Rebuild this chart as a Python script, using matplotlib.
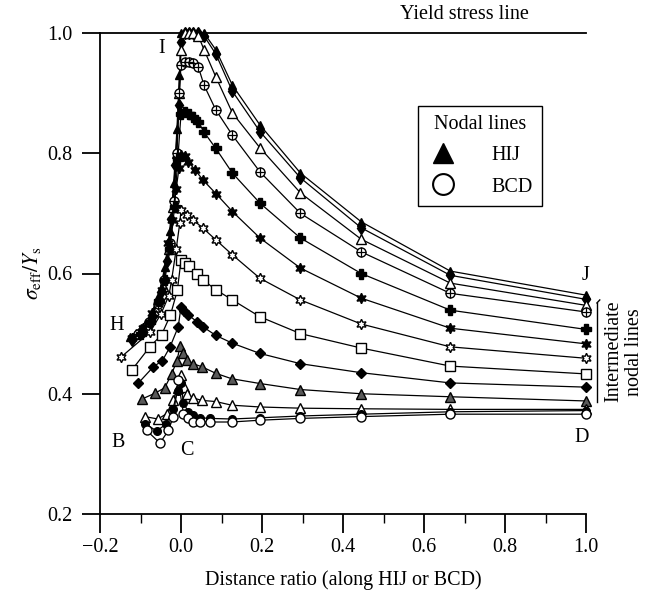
import matplotlib
matplotlib.use('Agg')
import matplotlib.pyplot as plt
from matplotlib.lines import Line2D
from matplotlib.ticker import MultipleLocator

plt.rcParams['font.family'] = ['Liberation Serif', 'DejaVu Serif']
plt.rcParams['mathtext.fontset'] = 'stix'

# ---- data (distance ratio, sigma_eff / Y_s) ----
# HIJ nodal line
hij_x = [-0.125, -0.10, -0.075, -0.055, -0.04, -0.028, -0.018, -0.01, -0.004, 0.0,
         0.01, 0.02, 0.03, 0.043, 0.057, 0.086, 0.127, 0.195, 0.295, 0.445, 0.665, 1.0]
hij_y = [0.495, 0.51, 0.53, 0.565, 0.61, 0.67, 0.75, 0.84, 0.93, 1.0,
         1.0, 1.0, 1.0, 1.0, 1.0, 0.972, 0.913, 0.847, 0.767, 0.686, 0.604, 0.564]

# intermediate nodal lines (top to bottom)
l2_x = [-0.12, -0.095, -0.07, -0.05, -0.035, -0.024, -0.014, -0.006, 0.0,
        0.01, 0.02, 0.03, 0.043, 0.057, 0.086, 0.127, 0.195, 0.295, 0.445, 0.665, 1.0]
l2_y = [0.49, 0.505, 0.53, 0.57, 0.62, 0.69, 0.78, 0.88, 0.985,
        1.0, 1.0, 1.0, 1.0, 0.995, 0.965, 0.903, 0.836, 0.759, 0.676, 0.597, 0.557]

l3_x = [-0.11, -0.085, -0.062, -0.045, -0.03, -0.02, -0.011, -0.004, 0.0,
        0.01, 0.02, 0.03, 0.043, 0.057, 0.086, 0.127, 0.195, 0.295, 0.445, 0.665, 1.0]
l3_y = [0.50, 0.515, 0.54, 0.58, 0.64, 0.71, 0.80, 0.90, 0.972,
        1.0, 1.0, 1.0, 0.995, 0.972, 0.927, 0.867, 0.809, 0.734, 0.657, 0.584, 0.547]

l4_x = [-0.105, -0.08, -0.058, -0.042, -0.028, -0.018, -0.01, -0.004, 0.0,
        0.01, 0.02, 0.03, 0.043, 0.057, 0.086, 0.127, 0.195, 0.295, 0.445, 0.665, 1.0]
l4_y = [0.50, 0.52, 0.55, 0.59, 0.65, 0.72, 0.80, 0.90, 0.947,
        0.952, 0.952, 0.95, 0.943, 0.913, 0.872, 0.83, 0.769, 0.70, 0.636, 0.567, 0.536]

l5_x = [-0.10, -0.077, -0.055, -0.04, -0.027, -0.016, -0.008, 0.0,
        0.01, 0.02, 0.03, 0.043, 0.057, 0.086, 0.127, 0.195, 0.295, 0.445, 0.665, 1.0]
l5_y = [0.50, 0.52, 0.555, 0.59, 0.64, 0.71, 0.79, 0.865,
        0.868, 0.865, 0.86, 0.852, 0.835, 0.808, 0.767, 0.717, 0.659, 0.60, 0.539, 0.507]

l6_x = [-0.122, -0.093, -0.072, -0.048, -0.031, -0.023, -0.012, -0.005, 0.0,
        0.01, 0.018, 0.035, 0.055, 0.086, 0.127, 0.195, 0.295, 0.445, 0.665, 1.0]
l6_y = [0.492, 0.509, 0.534, 0.572, 0.65, 0.689, 0.74, 0.775, 0.797,
        0.795, 0.786, 0.772, 0.755, 0.733, 0.703, 0.659, 0.609, 0.559, 0.509, 0.483]

l7_x = [-0.148, -0.077, -0.05, -0.03, -0.023, -0.012, -0.003, 0.0,
        0.014, 0.03, 0.055, 0.086, 0.127, 0.195, 0.295, 0.445, 0.665, 1.0]
l7_y = [0.461, 0.502, 0.532, 0.563, 0.59, 0.64, 0.684, 0.705,
        0.697, 0.689, 0.675, 0.656, 0.631, 0.592, 0.556, 0.516, 0.478, 0.459]

l8_x = [-0.122, -0.077, -0.048, -0.026, -0.009, 0.0,
        0.01, 0.02, 0.039, 0.055, 0.086, 0.127, 0.195, 0.295, 0.445, 0.665, 1.0]
l8_y = [0.439, 0.478, 0.498, 0.531, 0.572, 0.622,
        0.618, 0.612, 0.60, 0.589, 0.573, 0.556, 0.528, 0.50, 0.476, 0.446, 0.433]

l9_x = [-0.105, -0.068, -0.046, -0.027, -0.007, 0.0,
        0.008, 0.018, 0.039, 0.055, 0.086, 0.127, 0.195, 0.295, 0.445, 0.665, 1.0]
l9_y = [0.418, 0.445, 0.455, 0.478, 0.511, 0.544,
        0.538, 0.531, 0.52, 0.511, 0.497, 0.484, 0.467, 0.45, 0.435, 0.418, 0.411]

l10_x = [-0.097, -0.064, -0.04, -0.023, -0.01, -0.002,
         0.006, 0.014, 0.03, 0.051, 0.086, 0.125, 0.195, 0.295, 0.445, 0.665, 1.0]
l10_y = [0.391, 0.401, 0.41, 0.433, 0.455, 0.48,
         0.468, 0.456, 0.45, 0.445, 0.434, 0.425, 0.417, 0.407, 0.40, 0.395, 0.388]

l11_x = [-0.089, -0.057, -0.035, -0.02, -0.008, 0.0,
         0.007, 0.015, 0.03, 0.051, 0.086, 0.125, 0.195, 0.295, 0.445, 0.665, 1.0]
l11_y = [0.362, 0.358, 0.367, 0.389, 0.41, 0.431,
         0.412, 0.40, 0.393, 0.389, 0.387, 0.381, 0.378, 0.376, 0.375, 0.374, 0.374]

l12_x = [-0.088, -0.06, -0.036, -0.02, -0.008, 0.0,
         0.006, 0.018, 0.03, 0.047, 0.072, 0.125, 0.195, 0.295, 0.445, 0.665, 1.0]
l12_y = [0.35, 0.338, 0.35, 0.375, 0.405, 0.418,
         0.385, 0.37, 0.364, 0.36, 0.359, 0.358, 0.36, 0.363, 0.366, 0.37, 0.372]

# BCD nodal line
bcd_x = [-0.085, -0.052, -0.031, -0.019, -0.007,
         0.006, 0.018, 0.03, 0.047, 0.072, 0.125, 0.195, 0.295, 0.445, 0.665, 1.0]
bcd_y = [0.339, 0.318, 0.339, 0.362, 0.423,
         0.367, 0.359, 0.353, 0.353, 0.353, 0.353, 0.356, 0.359, 0.362, 0.366, 0.366]

x_ticks = [-0.2, 0.0, 0.2, 0.4, 0.6, 0.8, 1.0]
x_tick_labels = ['\u22120.2', '0.0', '0.2', '0.4', '0.6', '0.8', '1.0']
y_ticks = [0.2, 0.4, 0.6, 0.8, 1.0]
y_tick_labels = ['0.2', '0.4', '0.6', '0.8', '1.0']

FS = 14.5

fig = plt.figure(figsize=(6.54, 5.99), dpi=100)
ax = fig.add_axes([100/654, 1 - 514/599, 486/654, 481/599])

curves = [
    (hij_x, hij_y, '^', 'black', 6),
    (l2_x, l2_y, 'd', 'black', 6.5),
    (l3_x, l3_y, '^', 'white', 6.5),
    (l4_x, l4_y, 'o', 'white', 6.5),
    (l5_x, l5_y, 'P', 'black', 6.5),
    (l6_x, l6_y, (6, 1, 0), 'black', 7.5),
    (l7_x, l7_y, (6, 1, 0), 'white', 7.5),
    (l8_x, l8_y, 's', 'white', 6.5),
    (l9_x, l9_y, 'D', 'black', 5.5),
    (l10_x, l10_y, '^', '0.35', 6.5),
    (l11_x, l11_y, '^', 'white', 6.5),
    (l12_x, l12_y, 'o', 'black', 5.5),
    (bcd_x, bcd_y, 'o', 'white', 6.5),
]

for xs, ys, mk, fc, ms in curves:
    ax.plot(xs, ys, color='black', lw=0.9, marker=mk, mfc=fc, mec='black',
            ms=ms, mew=1.0, clip_on=False, zorder=3)
# crosses inside the circle markers of the 4th line
ax.plot(l4_x, l4_y, ls='none', marker='+', color='black', ms=6.5, mew=0.9,
        clip_on=False, zorder=4)

ax.set_xlim(-0.2, 1.0)
ax.set_ylim(0.2, 1.0)
ax.set_xticks(x_ticks)
ax.set_xticklabels(x_tick_labels)
ax.set_yticks(y_ticks)
ax.set_yticklabels(y_tick_labels)
ax.xaxis.set_minor_locator(MultipleLocator(0.1))

for s in ['left', 'bottom', 'top']:
    ax.spines[s].set_linewidth(1.3)
ax.spines['right'].set_visible(False)

ax.tick_params(axis='x', which='major', direction='out', length=13.5, width=1.3,
               pad=4, labelsize=FS, top=False)
ax.tick_params(axis='x', which='minor', direction='out', length=6.5, width=1.0, top=False)
ax.tick_params(axis='y', which='major', direction='out', length=13, width=1.3,
               pad=7, labelsize=FS, right=False)

ax.set_xlabel('Distance ratio (along HIJ or BCD)', fontsize=FS, labelpad=9)
ax.set_ylabel(r'$\sigma_{\rm eff}/Y_{\rm s}$', fontsize=FS + 1, labelpad=3)

# annotations
ax.text(0.541, 1.03, 'Yield stress line', fontsize=FS, ha='left', va='center', clip_on=False)
ax.text(-0.047, 0.975, 'I', fontsize=FS, ha='center', va='center')
ax.text(-0.16, 0.514, 'H', fontsize=FS, ha='center', va='center')
ax.text(-0.156, 0.319, 'B', fontsize=FS, ha='center', va='center')
ax.text(0.015, 0.306, 'C', fontsize=FS, ha='center', va='center')
ax.text(1.0, 0.597, 'J', fontsize=FS, ha='center', va='center', clip_on=False)
ax.text(0.989, 0.328, 'D', fontsize=FS, ha='center', va='center', clip_on=False)
ax.text(1.094, 0.47, 'Intermediate\nnodal lines', fontsize=FS, rotation=90,
        ha='center', va='center', linespacing=1.1, clip_on=False)
ax.plot([1.027, 1.027], [0.386, 0.551], color='black', lw=1.0, clip_on=False)
ax.plot([1.027, 1.034], [0.551, 0.556], color='black', lw=1.0, clip_on=False)

handles = [Line2D([], [], ls='none', marker='^', mfc='black', mec='black', ms=15),
           Line2D([], [], ls='none', marker='o', mfc='white', mec='black', ms=15, mew=1.5)]
leg = ax.legend(handles, ['HIJ', 'BCD'], title='Nodal lines', loc='upper left',
                bbox_to_anchor=(0.654, 0.848), borderaxespad=0, fontsize=FS,
                title_fontsize=FS, frameon=True, fancybox=False, edgecolor='black',
                framealpha=1, handlelength=1.6, handletextpad=1.6, labelspacing=0.6,
                borderpad=0.45)
leg.get_frame().set_linewidth(1.0)

fig.savefig('out.png', dpi=100)
